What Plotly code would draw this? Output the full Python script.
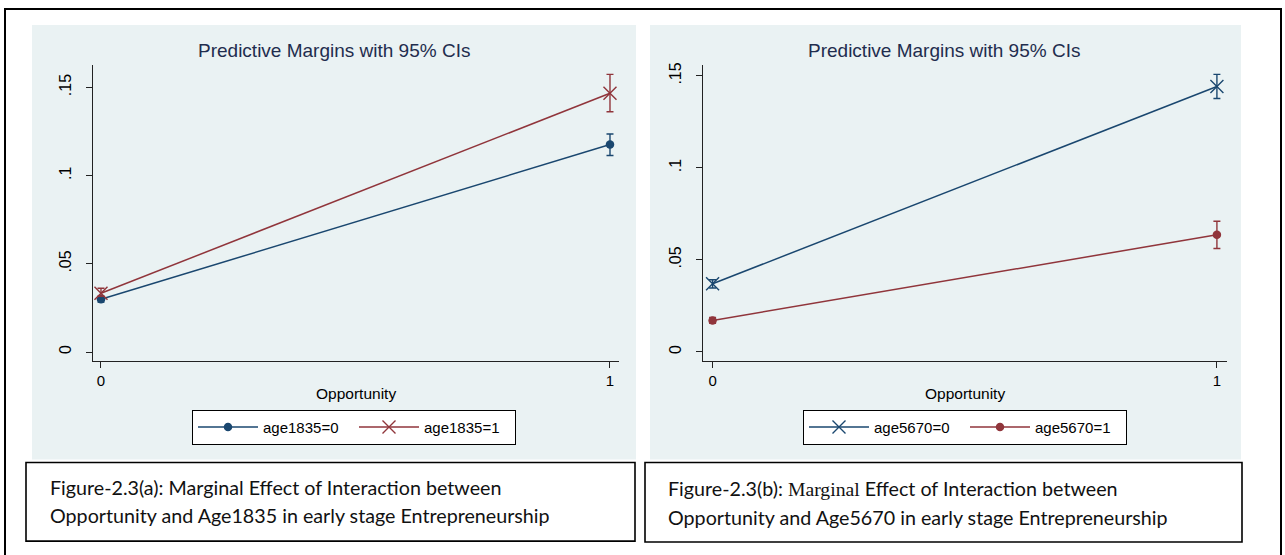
import plotly.graph_objects as go

# ---------------- data ----------------
opportunity = [0, 1]

# panel (a)
age1835_0_margin = [0.0299, 0.1176]
age1835_0_lo = [0.0283, 0.1114]
age1835_0_hi = [0.0315, 0.1236]
age1835_1_margin = [0.0333, 0.1467]
age1835_1_lo = [0.0316, 0.1362]
age1835_1_hi = [0.0362, 0.1574]

# panel (b)
age5670_0_margin = [0.0370, 0.1442]
age5670_0_lo = [0.0347, 0.1377]
age5670_0_hi = [0.0392, 0.1508]
age5670_1_margin = [0.0171, 0.0636]
age5670_1_lo = [0.0155, 0.0562]
age5670_1_hi = [0.0187, 0.0710]

y_tickvals = [0, 0.05, 0.1, 0.15]
y_ticktext = ["0", ".05", ".1", ".15"]
x_tickvals = [0, 1]
x_ticktext = ["0", "1"]

plot_title = "Predictive Margins with 95% CIs"
x_title = "Opportunity"
caption_a = ["Figure-2.3(a): Marginal Effect of Interaction between",
             "Opportunity and Age1835 in early stage Entrepreneurship"]
caption_b = ["Figure-2.3(b): <span style=\"font-family:'Liberation Serif'\">Marginal</span> Effect of Interaction between",
             "Opportunity and Age5670 in early stage Entrepreneurship"]

# ---------------- style ----------------
W, H = 1285, 555
BLUE = "#1a476f"
RED = "#90353b"
PANEL = "#eaf2f3"
GRID = "#eaf2f3"
TITLE_C = "#1f2d4e"
FONT = "Liberation Sans"
CAP_FONT = "Lato"


def fx(x):
    return x / W


def fy(y):
    return 1 - y / H


def err(m, lo, hi):
    return dict(type="data", symmetric=False,
                array=[h - v for h, v in zip(hi, m)],
                arrayminus=[v - l for v, l in zip(m, lo)],
                thickness=1.4, width=3.5)


fig = go.Figure()


def add_series(m, lo, hi, name, color, symbol, xa, ya, legend):
    is_x = symbol.startswith("x")
    e = err(m, lo, hi)
    e["color"] = color
    fig.add_trace(go.Scatter(
        x=opportunity, y=m, name=name, mode="lines+markers",
        line=dict(color=color, width=1.5),
        marker=dict(symbol=symbol, size=13 if is_x else 8.5, color=color,
                    line=dict(color=color, width=1.4 if is_x else 0)),
        error_y=e, xaxis=xa, yaxis=ya, legend=legend, cliponaxis=False))


add_series(age1835_0_margin, age1835_0_lo, age1835_0_hi, "age1835=0", BLUE, "circle", "x", "y", "legend")
add_series(age1835_1_margin, age1835_1_lo, age1835_1_hi, "age1835=1", RED, "x-thin", "x", "y", "legend")
add_series(age5670_0_margin, age5670_0_lo, age5670_0_hi, "age5670=0", BLUE, "x-thin", "x2", "y2", "legend2")
add_series(age5670_1_margin, age5670_1_lo, age5670_1_hi, "age5670=1", RED, "circle", "x2", "y2", "legend2")

xbase = dict(tickvals=x_tickvals, ticktext=x_ticktext, showline=True, linecolor="#222",
             linewidth=1, ticks="outside", ticklen=6, tickcolor="#222", showgrid=False,
             zeroline=False, tickfont=dict(family=FONT, size=15, color="#000"), fixedrange=True)
ybase = dict(tickvals=y_tickvals, ticktext=y_ticktext, showline=True, linecolor="#222",
             linewidth=1, ticks="outside", ticklen=6, tickcolor="#222", showgrid=True,
             gridcolor=GRID, gridwidth=1.5, zeroline=False, tickangle=-90, ticklabelstandoff=9,
             tickfont=dict(family=FONT, size=16, color="#000"), fixedrange=True)

legbase = dict(orientation="h", bgcolor="white", bordercolor="#000", borderwidth=1,
               font=dict(family=FONT, size=15, color="#000"), xanchor="left", yanchor="top",
               itemwidth=60, entrywidth=86, traceorder="normal")

fig.update_layout(
    width=W, height=H, margin=dict(l=0, r=0, t=0, b=0),
    paper_bgcolor="white", plot_bgcolor="white",
    xaxis=dict(xbase, domain=[fx(93), fx(619)], range=[-0.0157, 1.0177], anchor="y"),
    yaxis=dict(ybase, domain=[fy(360), fy(62)], range=[-0.0051, 0.1629], anchor="x"),
    xaxis2=dict(xbase, domain=[fx(703), fx(1227)], range=[-0.019, 1.020], anchor="y2"),
    yaxis2=dict(ybase, domain=[fy(360), fy(62.7)], range=[-0.0050, 0.1557], anchor="x2"),
    legend=dict(legbase, x=fx(192), y=fy(409)),
    legend2=dict(legbase, x=fx(803), y=fy(409)),
    showlegend=True,
)

shapes = []
# outer frame
shapes.append(dict(type="rect", xref="paper", yref="paper", x0=fx(5), x1=fx(1281), y0=fy(620), y1=fy(6),
                   line=dict(color="#000", width=2), fillcolor="rgba(0,0,0,0)", layer="above"))
# panel backgrounds
for x0, x1 in [(32, 636), (650, 1241)]:
    shapes.append(dict(type="rect", xref="paper", yref="paper", x0=fx(x0), x1=fx(x1), y0=fy(459), y1=fy(22),
                       line=dict(width=0), fillcolor=PANEL, layer="below"))
# caption boxes
for x0, x1, y1 in [(26, 635, 541), (645, 1242, 542)]:
    shapes.append(dict(type="rect", xref="paper", yref="paper", x0=fx(x0), x1=fx(x1), y0=fy(y1), y1=fy(462),
                       line=dict(color="#000", width=1.6), fillcolor="white", layer="above"))
fig.update_layout(shapes=shapes)

ann = []
for cx in [334, 944]:
    ann.append(dict(text=plot_title, x=fx(cx), y=fy(48), xref="paper", yref="paper", showarrow=False,
                    xanchor="center", yanchor="middle", font=dict(family=FONT, size=19, color=TITLE_C)))
for cx in [356, 965]:
    ann.append(dict(text=x_title, x=fx(cx), y=fy(393), xref="paper", yref="paper", showarrow=False,
                    xanchor="center", yanchor="middle", font=dict(family=FONT, size=15.5, color="#000")))
for lx, lines, ys in [(48, caption_a, [487, 515]), (666, caption_b, [488, 517])]:
    for t, yy in zip(lines, ys):
        ann.append(dict(text=t, x=fx(lx), y=fy(yy), xref="paper", yref="paper", showarrow=False,
                        xanchor="left", yanchor="middle", font=dict(family=CAP_FONT, size=19.7, color="#111")))
fig.update_layout(annotations=ann)

fig.write_html("out.html")
